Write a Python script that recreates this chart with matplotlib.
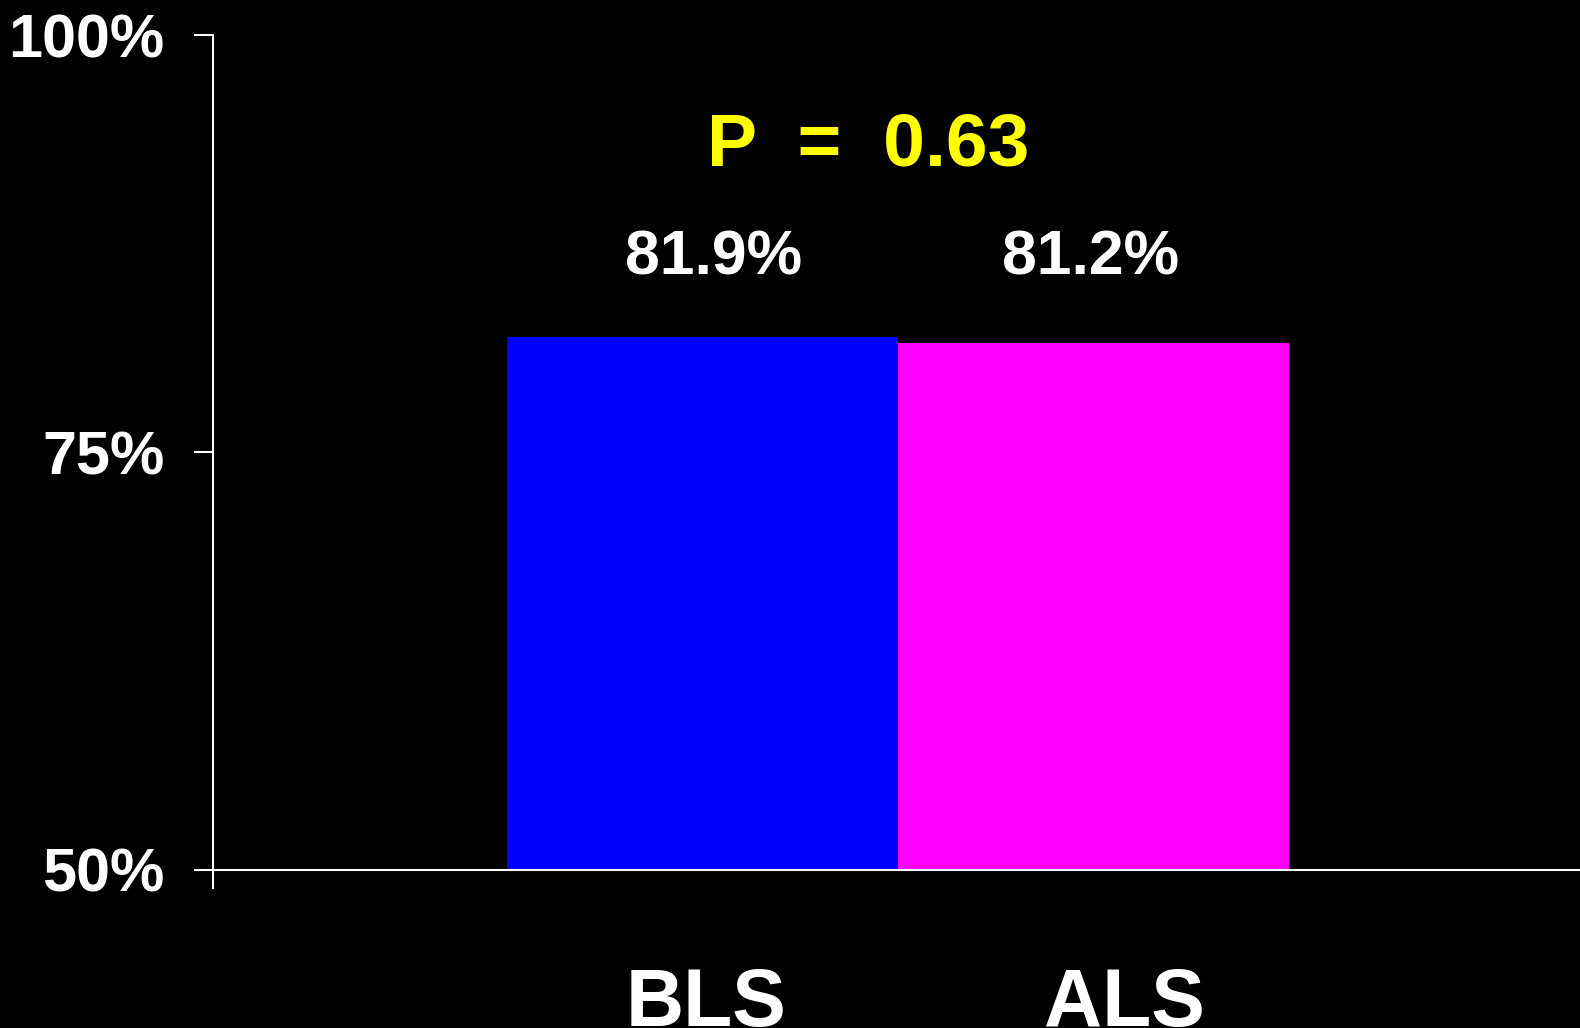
import matplotlib
matplotlib.use("Agg")
import matplotlib.pyplot as plt
import matplotlib.transforms as mtransforms

# Data
categories = ["BLS", "ALS"]
bar_values = [81.9, 81.55]          # bar heights as drawn
value_labels = ["81.9%", "81.2%"]
bar_colors = ["#0000FF", "#FF00FF"]
ytick_values = [50, 75, 100]
ytick_labels = ["50%", "75%", "100%"]
p_text = "P  =  0.63"

plt.rcParams['font.family'] = ['Liberation Sans', 'DejaVu Sans']

fig = plt.figure(figsize=(15.8, 10.28), dpi=100, facecolor="black")
ax = fig.add_axes([213/1580, 1 - 888/1028, 1 - 213/1580, (888 - 35)/1028])
ax.set_facecolor("black")

x_pos = [1.252, 2.252]
ax.bar(x_pos, [v - 50 for v in bar_values], bottom=50, width=1.0,
       color=bar_colors, edgecolor="none", zorder=2)

ax.set_xlim(0, 1367/391)
ax.set_ylim(48.92, 100)

for s in ["top", "right", "bottom"]:
    ax.spines[s].set_visible(False)
ax.spines["left"].set_color("white")
ax.spines["left"].set_linewidth(1.5)
ax.axhline(50, color="white", lw=1.5, zorder=3)

ax.set_xticks([])
ax.set_yticks(ytick_values)
ax.set_yticklabels(ytick_labels)
ax.tick_params(axis="y", colors="white", length=13.7, width=1.5, pad=21,
               labelsize=44)
for lab in ax.get_yticklabels():
    lab.set_fontweight("bold")
    lab.set_color("white")

# value labels
label_x = [1.28, 2.245]
for xi, txt in zip(label_x, value_labels):
    ax.text(xi, 85.63, txt, color="white", fontsize=45, fontweight="bold",
            ha="center", va="baseline")

# p value
ax.text((868 - 213)/391, 50 + (870 - 166)/16.7, p_text, color="#FFFF00",
        fontsize=54, fontweight="bold", ha="center", va="baseline")

# category labels
trans = mtransforms.blended_transform_factory(ax.transData, fig.transFigure)
cat_x = [1.26, 2.331]
for xi, c in zip(cat_x, categories):
    ax.text(xi, 1 - 1026/1028, c, transform=trans, color="white", fontsize=58,
            fontweight="bold", ha="center", va="baseline", clip_on=False)

fig.savefig("out.png", dpi=100, facecolor="black")
